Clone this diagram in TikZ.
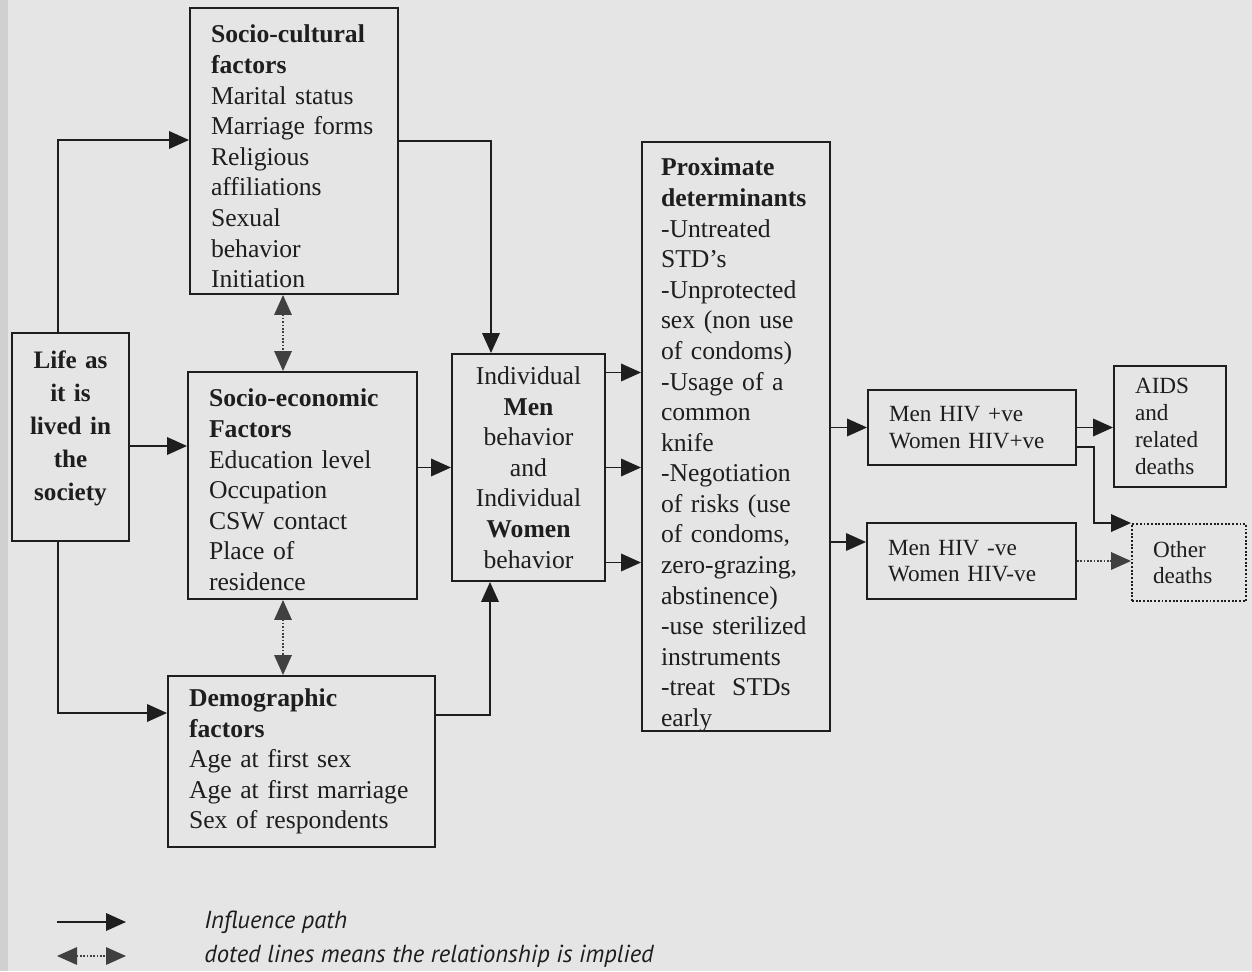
\documentclass[tikz,border=0pt]{standalone}
\usepackage{fontspec}
\setmainfont{Liberation Serif}
\newfontfamily\keyfont{PT Sans}
\usetikzlibrary{arrows.meta, calc}
\definecolor{scanbg}{HTML}{E5E5E5}
\definecolor{scanedge}{HTML}{D0D0D0}
\definecolor{ink}{HTML}{1E1E1E}

\tikzset{
  factor/.style={draw=ink, line width=1.1pt, rectangle, text=ink, inner xsep=0.42cm,
    inner ysep=0.1cm, align=left, font=\fontsize{14.6}{17.4}\selectfont},
  outcome/.style={factor, font=\fontsize{13.2}{15.2}\selectfont},
  flow/.style={draw=ink, line width=1.1pt, ->},
  implied/.style={draw=ink!85, line width=0.9pt, densely dotted, <->},
  keytext/.style={text=ink, inner sep=0pt, font=\keyfont\itshape\fontsize{14}{15}\selectfont}
}

\begin{document}
\begin{tikzpicture}[>={Triangle[length=4mm, width=3.5mm]}]

% Background
\useasboundingbox (0,0) rectangle (25.04,19.42);
\fill[scanbg] (0,0) rectangle (25.04,19.42);
\fill[scanedge] (0,0) rectangle (0.16,19.42);

% ========== Background factors ==========
\node[factor, align=center, inner xsep=0.1cm, text width=2.14cm, minimum height=4.16cm,
      text height=0.62cm, text depth=3.34cm,
      font=\fontsize{14.3}{18.7}\selectfont\bfseries] (life) at (1.41,10.68)
      {Life as\\it is\\lived in\\the\\society};

\node[factor, text width=3.32cm, minimum height=5.72cm, text height=0.60cm, text depth=4.92cm] (cult) at (5.88,16.40)
      {\textbf{Socio-cultural}\\\textbf{factors}\\Marital status\\Marriage forms\\Religious\\affiliations\\Sexual\\behavior\\Initiation};

\node[factor, text width=3.74cm, minimum height=4.54cm, text height=0.60cm, text depth=3.74cm] (econ) at (6.05,9.71)
      {\textbf{Socio-economic}\\\textbf{Factors}\\Education level\\Occupation\\CSW contact\\Place of\\residence};

\node[factor, text width=4.50cm, minimum height=3.42cm] (demo) at (6.03,4.19)
      {\textbf{Demographic}\\\textbf{factors}\\Age at first sex\\Age at first marriage\\Sex of respondents};

% ========== Behaviour and proximate determinants ==========
\node[factor, align=center, inner xsep=0.1cm, minimum width=3.06cm, minimum height=4.54cm] (indiv) at (10.57,10.07)
      {Individual\\\textbf{Men}\\behavior\\and\\Individual\\\textbf{Women}\\behavior};

\node[factor, inner xsep=0.38cm, text width=3.0cm, minimum height=11.78cm, text height=0.58cm, text depth=11.0cm] (prox) at (14.72,10.69)
      {\textbf{Proximate}\\\textbf{determinants}\\-Untreated\\STD’s\\-Unprotected\\sex (non use\\of condoms)\\-Usage of a\\common\\knife\\-Negotiation\\of risks (use\\of condoms,\\zero-grazing,\\abstinence)\\-use sterilized\\instruments\\-treat\ \ STDs\\early};

% ========== Outcomes ==========
\node[outcome, text width=3.32cm, minimum height=1.50cm] (hivpos) at (19.44,10.87) {Men HIV +ve\\Women HIV+ve};
\node[outcome, text width=3.34cm, minimum height=1.52cm] (hivneg) at (19.43,8.20) {Men HIV -ve\\Women HIV-ve};
\node[outcome, text width=1.40cm, minimum height=2.42cm] (aids) at (23.40,10.89) {AIDS\\and\\related\\deaths};
\node[outcome, densely dotted, text width=1.44cm, minimum height=1.54cm] (other) at (23.78,8.17) {Other\\deaths};

% Life as it is lived -> factors
\draw[flow] ([xshift=-0.25cm]life.north) |- ([yshift=0.22cm]cult.west);
\draw[flow] ([yshift=-0.18cm]life.east) -- ([yshift=0.79cm]econ.west);
\draw[flow] ([xshift=-0.25cm]life.south) |- ([yshift=0.97cm]demo.west);

% implied links between factors
\draw[implied] ([xshift=-0.22cm]cult.south) -- ([xshift=-0.39cm]econ.north);
\draw[implied] ([xshift=-0.39cm]econ.south) -- ([xshift=-0.37cm]demo.north);

% factors -> individual behavior
\draw[flow] ([yshift=0.2cm]cult.east) -| ([xshift=-0.75cm]indiv.north);
\draw[flow] (econ.east |- indiv.west) -- (indiv.west);
\draw[flow] ([yshift=0.93cm]demo.east) -| ([xshift=-0.77cm]indiv.south);

% behavior -> proximate determinants
\foreach \dy in {1.9,0,-1.9}
  \draw[flow] ($(indiv.east)+(0,\dy)$) -- ($(indiv.east -| prox.west)+(0,\dy)$);

% proximate determinants -> HIV status -> deaths
\draw[flow] (prox.east |- hivpos.west) -- (hivpos.west);
\draw[flow] ($(prox.east |- hivneg.west)+(0,0.38)$) -- ([yshift=0.38cm]hivneg.west);
\draw[flow] (hivpos.east) -- (hivpos.east -| aids.west);
\draw[flow] ([yshift=-0.39cm]hivpos.east) -| ([xshift=-0.74cm]other.north west) -- (other.north west);
\draw[implied, ->] (hivneg.east) -- (hivneg.east -| other.west);

% Key
\coordinate (keyA) at (1.14,0.98);
\coordinate (keyB) at (2.52,0.98);
\coordinate (keyC) at (1.14,0.30);
\coordinate (keyD) at (2.52,0.30);
\draw[flow] (keyA) -- (keyB);
\draw[implied] (keyC) -- (keyD);
\node[keytext, anchor=west] (keyflow) at (4.08,0.98) {Influence path};
\node[keytext, anchor=west] (keyimplied) at (4.08,0.30) {doted lines means the relationship is implied};

\end{tikzpicture}
\end{document}
